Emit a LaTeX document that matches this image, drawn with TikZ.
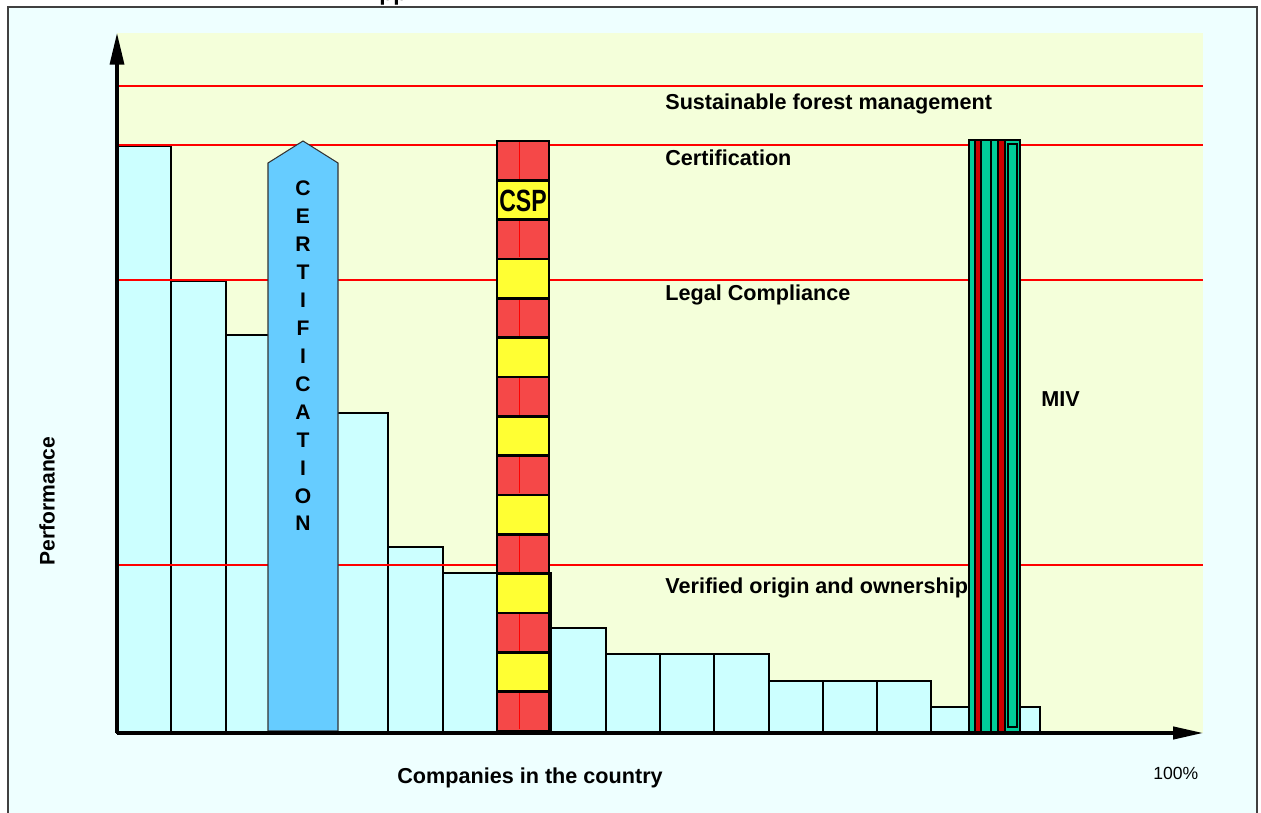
\documentclass[tikz,border=0pt]{standalone}
\usepackage{fontspec}
\setmainfont{Liberation Sans}
\usetikzlibrary{arrows.meta}
\definecolor{bgcyan}{RGB}{238,255,255}
\definecolor{plotbg}{RGB}{244,255,218}
\definecolor{barcyan}{RGB}{204,255,255}
\definecolor{certblue}{RGB}{102,204,255}
\definecolor{cspred}{RGB}{245,72,72}
\definecolor{cspyellow}{RGB}{255,255,51}
\definecolor{mivteal}{RGB}{0,204,153}
\definecolor{mivred}{RGB}{204,0,0}
\tikzset{
  barbox/.style={fill=barcyan, draw=black, line width=1.2pt},
  levelline/.style={draw=red, line width=0.8pt},
  axisline/.style={draw=black, line width=1.8pt},
  lbl/.style={anchor=base west, inner sep=0pt, font=\fontsize{12.3}{14}\selectfont\bfseries},
  certarrow/.style={fill=certblue, draw=black!80, line width=0.6pt},
  cspseg/.style={draw=black, line width=1.4pt},
}
\begin{document}
\begin{tikzpicture}[x=0.02cm,y=-0.02cm]
\useasboundingbox (0,0) rectangle (1261,813);
\fill[white] (0,0) rectangle (1261,813);
\fill[bgcyan] (8,7) rectangle (1257,813);
\draw[draw=black!75, line width=1.1pt] (8,7) rectangle (1257,840);
% title fragment
\node[anchor=base west, inner sep=0pt, font=\fontsize{13}{13}\selectfont\bfseries] (title) at (379,1) {pp};
% plot area
\fill[plotbg] (117,33) rectangle (1203,733);
% bars
\foreach \xa/\xb/\yt in {117/171/146,171/226/281,226/281/335,336/388/413,388/443/547,443/497/573,497/551/573,551/606/628,606/660/654,660/714/654,714/769/654,769/823/681,823/877/681,877/931/681,931/985/707,985/1040/707}{
  \draw[barbox] (\xa,733) rectangle (\xb,\yt);
}
% level lines
\foreach \yy in {86,145,280,565}{
  \draw[levelline] (117,\yy) -- (1203,\yy);
}
% labels
\node[lbl] (sfm) at (665,110) {Sustainable forest management};
\node[lbl] (cert) at (665,166) {Certification};
\node[lbl] (legal) at (665,301) {Legal Compliance};
\node[lbl] (verif) at (665,594) {Verified origin and ownership};
\node[lbl] (miv) at (1041,407) {MIV};
\node[lbl] (comp) at (397,783) {Companies in the country};
\node[anchor=base west, inner sep=0pt, font=\fontsize{10}{12}\selectfont] (pct) at (1153,779) {100\%};
\node[rotate=90, inner sep=0pt, font=\fontsize{12}{14}\selectfont\bfseries] (perf) at (47,501) {Performance};
% certification arrow
\draw[certarrow] (268,731) -- (268,163) -- (303,141) -- (338,163) -- (338,731) -- cycle;
\node[align=center, inner sep=0pt, font=\fontsize{12}{15.9}\selectfont\bfseries] (certtxt) at (303,356) {C\\E\\R\\T\\I\\F\\I\\C\\A\\T\\I\\O\\N};
% CSP column
\foreach \i in {0,...,14}{
  \pgfmathsetmacro{\ya}{141+39.33*\i}
  \pgfmathsetmacro{\yb}{\ya+39.33}
  \ifodd\i
    \draw[cspseg, fill=cspyellow] (497,\ya) rectangle (549,\yb);
  \else
    \draw[cspseg, fill=cspred] (497,\ya) rectangle (549,\yb);
    \draw[red, line width=0.5pt] (519,\ya+1.5) -- (519,\yb-1.5);
  \fi
}
\node[inner sep=0pt, font=\fontsize{17.5}{18}\selectfont\bfseries] (csp) at (523,201) {\scalebox{0.75}[1]{CSP}};
% MIV column
\draw[fill=mivteal, draw=black, line width=1.4pt] (969,140) rectangle (1020,733);
\draw[fill=mivred, draw=black, line width=0.7pt] (975,140) rectangle (981,733);
\draw[fill=mivred, draw=black, line width=0.7pt] (998,140) rectangle (1005,733);
\draw[black, line width=0.7pt] (991,140) -- (991,733);
\draw[black, line width=1pt] (1008,144) rectangle (1017,727);
% axes
\coordinate (origin) at (117,733);
\coordinate (ytip) at (117,33);
\coordinate (xtip) at (1203,733);
\draw[axisline, -{Triangle[length=18pt,width=8pt]}] (origin) -- (ytip);
\draw[axisline, -{Triangle[length=17pt,width=7pt]}] (origin) -- (xtip);
\end{tikzpicture}
\end{document}
